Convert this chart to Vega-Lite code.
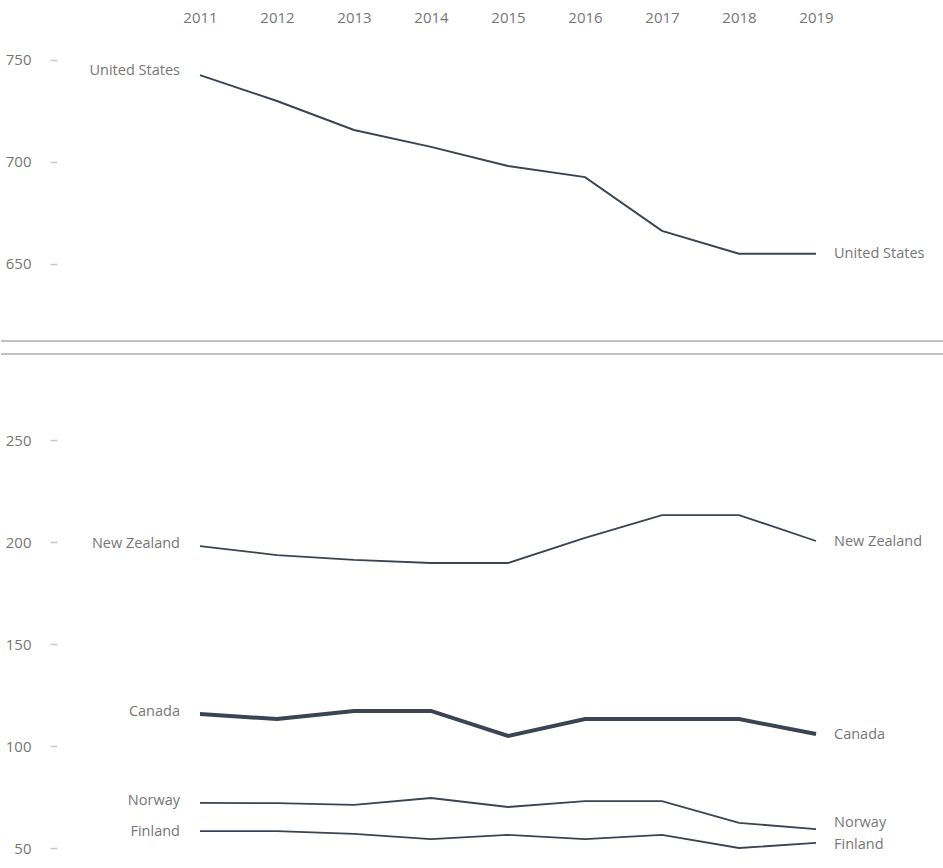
{
  "$schema": "https://vega.github.io/schema/vega-lite/v6.json",
  "padding": 0,
  "autosize": {"type": "pad"},
  "bounds": "flush",
  "spacing": 13,
  "config": {
    "view": {"stroke": null},
    "font": "Open Sans",
    "axis": {"grid": false, "domain": false, "labelColor": "#767676", "labelFontSize": 15, "labelFont": "Open Sans", "title": null},
    "text": {"font": "Open Sans", "fontSize": 14.5, "color": "#767676"}
  },
  "datasets": {
    "rows": [
      {"country": "United States", "year": 2011, "value": 742.6},
      {"country": "United States", "year": 2012, "value": 729.9},
      {"country": "United States", "year": 2013, "value": 715.7},
      {"country": "United States", "year": 2014, "value": 707.4},
      {"country": "United States", "year": 2015, "value": 698.0},
      {"country": "United States", "year": 2016, "value": 692.6},
      {"country": "United States", "year": 2017, "value": 666.2},
      {"country": "United States", "year": 2018, "value": 655.0},
      {"country": "United States", "year": 2019, "value": 655.0},
      {"country": "New Zealand", "year": 2011, "value": 198.0},
      {"country": "New Zealand", "year": 2012, "value": 193.6},
      {"country": "New Zealand", "year": 2013, "value": 191.2},
      {"country": "New Zealand", "year": 2014, "value": 189.7},
      {"country": "New Zealand", "year": 2015, "value": 189.7},
      {"country": "New Zealand", "year": 2016, "value": 202.0},
      {"country": "New Zealand", "year": 2017, "value": 213.2},
      {"country": "New Zealand", "year": 2018, "value": 213.2},
      {"country": "New Zealand", "year": 2019, "value": 200.5},
      {"country": "Canada", "year": 2011, "value": 115.7},
      {"country": "Canada", "year": 2012, "value": 113.2},
      {"country": "Canada", "year": 2013, "value": 117.2},
      {"country": "Canada", "year": 2014, "value": 117.2},
      {"country": "Canada", "year": 2015, "value": 104.9},
      {"country": "Canada", "year": 2016, "value": 113.2},
      {"country": "Canada", "year": 2017, "value": 113.2},
      {"country": "Canada", "year": 2018, "value": 113.2},
      {"country": "Canada", "year": 2019, "value": 105.9},
      {"country": "Norway", "year": 2011, "value": 72.1},
      {"country": "Norway", "year": 2012, "value": 72.0},
      {"country": "Norway", "year": 2013, "value": 71.1},
      {"country": "Norway", "year": 2014, "value": 74.5},
      {"country": "Norway", "year": 2015, "value": 70.1},
      {"country": "Norway", "year": 2016, "value": 73.0},
      {"country": "Norway", "year": 2017, "value": 73.0},
      {"country": "Norway", "year": 2018, "value": 62.3},
      {"country": "Norway", "year": 2019, "value": 59.3},
      {"country": "Finland", "year": 2011, "value": 58.3},
      {"country": "Finland", "year": 2012, "value": 58.3},
      {"country": "Finland", "year": 2013, "value": 56.9},
      {"country": "Finland", "year": 2014, "value": 54.4},
      {"country": "Finland", "year": 2015, "value": 56.4},
      {"country": "Finland", "year": 2016, "value": 54.4},
      {"country": "Finland", "year": 2017, "value": 56.4},
      {"country": "Finland", "year": 2018, "value": 50.0},
      {"country": "Finland", "year": 2019, "value": 52.5}
    ]
  },
  "vconcat": [
    {
      "width": 943,
      "height": 341,
      "data": {"name": "rows"},
      "transform": [{"filter": "datum.country === 'United States'"}],
      "encoding": {
        "x": {"field": "year", "type": "quantitative", "scale": {"domain": [2008.416, 2020.662], "nice": false, "zero": false},
          "axis": {"orient": "top", "values": [2011, 2012, 2013, 2014, 2015, 2016, 2017, 2018, 2019], "format": "d", "ticks": false, "offset": -30, "labelPadding": 5}},
        "y": {"field": "value", "type": "quantitative", "scale": {"domain": [612.25, 779.41], "nice": false, "zero": false},
          "axis": {"values": [650, 700, 750], "offset": -56, "tickSize": 7, "tickColor": "#c8c8c8", "tickWidth": 1.5, "labelPadding": 19}}
      },
      "layer": [
        {"mark": {"type": "rule", "color": "#c0c0c0", "strokeWidth": 1.5}, "encoding": {"x": null, "y": {"datum": 612.25}}},
        {"mark": {"type": "line", "color": "#3a4453", "strokeWidth": 2}},
        {"transform": [{"filter": "datum.year === 2011"}], "mark": {"type": "text", "align": "right", "baseline": "middle", "dx": -20, "dy": -4}, "encoding": {"text": {"field": "country"}}},
        {"transform": [{"filter": "datum.year === 2019"}], "mark": {"type": "text", "align": "left", "baseline": "middle", "dx": 18, "dy": 0}, "encoding": {"text": {"field": "country"}}}
      ]
    },
    {
      "width": 943,
      "height": 514,
      "data": {"name": "rows"},
      "transform": [{"filter": "datum.country !== 'United States'"}],
      "encoding": {
        "x": {"field": "year", "type": "quantitative", "scale": {"domain": [2008.416, 2020.662], "nice": false, "zero": false}, "axis": null},
        "y": {"field": "value", "type": "quantitative", "scale": {"domain": [40.2, 292.16], "nice": false, "zero": false},
          "axis": {"values": [50, 100, 150, 200, 250], "offset": -56, "tickSize": 7, "tickColor": "#c8c8c8", "tickWidth": 1.5, "labelPadding": 19}}
      },
      "layer": [
        {"mark": {"type": "rule", "color": "#c0c0c0", "strokeWidth": 1.5}, "encoding": {"x": null, "y": {"datum": 292.16}}},
        {"transform": [{"filter": "datum.country !== 'Canada'"}], "mark": {"type": "line", "color": "#3a4453", "strokeWidth": 1.8}, "encoding": {"detail": {"field": "country"}}},
        {"transform": [{"filter": "datum.country === 'Canada'"}], "mark": {"type": "line", "color": "#3a4453", "strokeWidth": 4}},
        {"transform": [{"filter": "datum.year === 2011 && datum.country !== 'Finland'"}], "mark": {"type": "text", "align": "right", "baseline": "middle", "dx": -20, "dy": -2}, "encoding": {"text": {"field": "country"}}},
        {"transform": [{"filter": "datum.year === 2011 && datum.country === 'Finland'"}], "mark": {"type": "text", "align": "right", "baseline": "middle", "dx": -20, "dy": 1}, "encoding": {"text": {"field": "country"}}},
        {"transform": [{"filter": "datum.year === 2019 && datum.country !== 'Norway' && datum.country !== 'Finland'"}], "mark": {"type": "text", "align": "left", "baseline": "middle", "dx": 18, "dy": 1}, "encoding": {"text": {"field": "country"}}},
        {"transform": [{"filter": "datum.year === 2019 && datum.country === 'Norway'"}], "mark": {"type": "text", "align": "left", "baseline": "middle", "dx": 18, "dy": -6}, "encoding": {"text": {"field": "country"}}},
        {"transform": [{"filter": "datum.year === 2019 && datum.country === 'Finland'"}], "mark": {"type": "text", "align": "left", "baseline": "middle", "dx": 18, "dy": 2}, "encoding": {"text": {"field": "country"}}}
      ]
    }
  ]
}
